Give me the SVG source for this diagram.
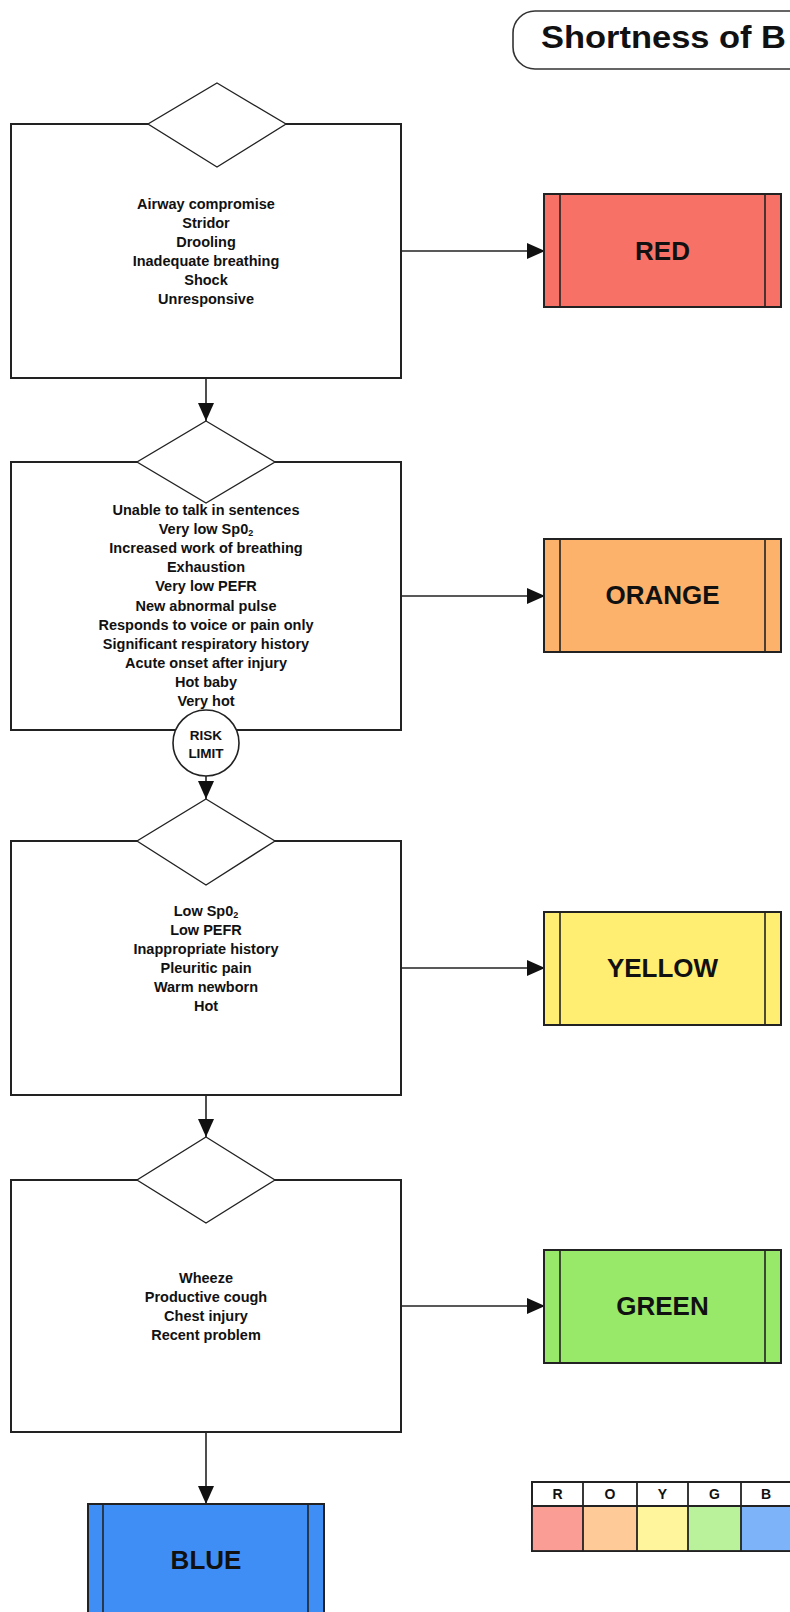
<svg xmlns="http://www.w3.org/2000/svg" width="790" height="1612" viewBox="0 0 790 1612">
<defs>
<style>
.box{fill:#fff;stroke:#222;stroke-width:2}
.dia{fill:#fff;stroke:#222;stroke-width:1.3}
.con{fill:none;stroke:#222;stroke-width:1.6}
.t{font-family:"Liberation Sans",Arial,sans-serif;font-weight:bold;font-size:14.5px;fill:#111;text-anchor:middle}
.lbl{font-family:"Liberation Sans",Arial,sans-serif;font-weight:bold;font-size:26px;fill:#111;text-anchor:middle}
.lg{font-family:"Liberation Sans",Arial,sans-serif;font-weight:bold;font-size:14px;fill:#111;text-anchor:middle}
.cb{stroke:#222;stroke-width:2}
.cl{stroke:#222;stroke-width:1.6}
</style>
<marker id="ah" markerUnits="userSpaceOnUse" markerWidth="18" markerHeight="16" refX="18" refY="8" orient="auto">
<path d="M0,0 L18,8 L0,16 z" fill="#111"/>
</marker>
</defs>
<rect width="790" height="1612" fill="#fff"/>

<g id="title">
<rect x="513" y="11" width="300" height="58" rx="22" ry="22" fill="#fff" stroke="#333" stroke-width="1.6"/>
<text x="541" y="48" font-family="'Liberation Sans',Arial,sans-serif" font-weight="bold" font-size="31" fill="#111" textLength="245" lengthAdjust="spacingAndGlyphs">Shortness of B</text>
</g>

<g id="connectors">
<line class="con" x1="206" y1="378" x2="206" y2="421" marker-end="url(#ah)"/>
<line class="con" x1="206" y1="776" x2="206" y2="799" marker-end="url(#ah)"/>
<line class="con" x1="206" y1="1095" x2="206" y2="1137" marker-end="url(#ah)"/>
<line class="con" x1="206" y1="1432" x2="206" y2="1504" marker-end="url(#ah)"/>
<line class="con" x1="401" y1="251" x2="545" y2="251" marker-end="url(#ah)"/>
<line class="con" x1="401" y1="596" x2="545" y2="596" marker-end="url(#ah)"/>
<line class="con" x1="401" y1="968" x2="545" y2="968" marker-end="url(#ah)"/>
<line class="con" x1="401" y1="1306" x2="545" y2="1306" marker-end="url(#ah)"/>
</g>

<g id="box1">
<rect class="box" x="11" y="124" width="390" height="254"/>
<polygon class="dia" points="217,83 286,124 217,167 148,124"/>
<text class="t" x="206" y="209">Airway compromise</text>
<text class="t" x="206" y="228">Stridor</text>
<text class="t" x="206" y="247">Drooling</text>
<text class="t" x="206" y="266">Inadequate breathing</text>
<text class="t" x="206" y="285">Shock</text>
<text class="t" x="206" y="304">Unresponsive</text>
</g>

<g id="box2">
<rect class="box" x="11" y="462" width="390" height="268"/>
<polygon class="dia" points="206,421 275,462 206,503 137,462"/>
<text class="t" x="206" y="515">Unable to talk in sentences</text>
<text class="t" x="206" y="534">Very low Sp0<tspan font-size="9" dy="2">2</tspan></text>
<text class="t" x="206" y="553">Increased work of breathing</text>
<text class="t" x="206" y="572">Exhaustion</text>
<text class="t" x="206" y="591">Very low PEFR</text>
<text class="t" x="206" y="611">New abnormal pulse</text>
<text class="t" x="206" y="630">Responds to voice or pain only</text>
<text class="t" x="206" y="649">Significant respiratory history</text>
<text class="t" x="206" y="668">Acute onset after injury</text>
<text class="t" x="206" y="687">Hot baby</text>
<text class="t" x="206" y="706">Very hot</text>
</g>

<g id="risk-limit">
<circle cx="206" cy="743" r="33" fill="#fff" stroke="#222" stroke-width="1.6"/>
<text class="t" x="206" y="740" style="font-size:13.5px">RISK</text>
<text class="t" x="206" y="758" style="font-size:13.5px">LIMIT</text>
</g>

<g id="box3">
<rect class="box" x="11" y="841" width="390" height="254"/>
<polygon class="dia" points="206,799 275,841 206,885 137,841"/>
<text class="t" x="206" y="916">Low Sp0<tspan font-size="9" dy="2">2</tspan></text>
<text class="t" x="206" y="935">Low PEFR</text>
<text class="t" x="206" y="954">Inappropriate history</text>
<text class="t" x="206" y="973">Pleuritic pain</text>
<text class="t" x="206" y="992">Warm newborn</text>
<text class="t" x="206" y="1011">Hot</text>
</g>

<g id="box4">
<rect class="box" x="11" y="1180" width="390" height="252"/>
<polygon class="dia" points="206,1137 275,1180 206,1223 137,1180"/>
<text class="t" x="206" y="1283">Wheeze</text>
<text class="t" x="206" y="1302">Productive cough</text>
<text class="t" x="206" y="1321">Chest injury</text>
<text class="t" x="206" y="1340">Recent problem</text>
</g>

<g id="red">
<rect class="cb" x="544" y="194" width="237" height="113" fill="#F77166"/>
<line class="cl" x1="560" y1="194" x2="560" y2="307"/>
<line class="cl" x1="765" y1="194" x2="765" y2="307"/>
<text class="lbl" x="662.5" y="260">RED</text>
</g>

<g id="orange">
<rect class="cb" x="544" y="539" width="237" height="113" fill="#FDB26B"/>
<line class="cl" x1="560" y1="539" x2="560" y2="652"/>
<line class="cl" x1="765" y1="539" x2="765" y2="652"/>
<text class="lbl" x="662.5" y="604">ORANGE</text>
</g>

<g id="yellow">
<rect class="cb" x="544" y="912" width="237" height="113" fill="#FFEE72"/>
<line class="cl" x1="560" y1="912" x2="560" y2="1025"/>
<line class="cl" x1="765" y1="912" x2="765" y2="1025"/>
<text class="lbl" x="662.5" y="977">YELLOW</text>
</g>

<g id="green">
<rect class="cb" x="544" y="1250" width="237" height="113" fill="#98E86A"/>
<line class="cl" x1="560" y1="1250" x2="560" y2="1363"/>
<line class="cl" x1="765" y1="1250" x2="765" y2="1363"/>
<text class="lbl" x="662.5" y="1315">GREEN</text>
</g>

<g id="blue">
<rect class="cb" x="88" y="1504" width="236" height="120" fill="#3F8EF6"/>
<line class="cl" x1="103" y1="1504" x2="103" y2="1624"/>
<line class="cl" x1="308" y1="1504" x2="308" y2="1624"/>
<text class="lbl" x="206" y="1569">BLUE</text>
</g>

<g id="legend">
<rect x="532" y="1482" width="263" height="69" fill="#fff" stroke="#222" stroke-width="2"/>
<rect x="532" y="1506" width="51" height="45" fill="#F99D95"/>
<rect x="583" y="1506" width="54" height="45" fill="#FDCA98"/>
<rect x="637" y="1506" width="51" height="45" fill="#FFF59D"/>
<rect x="688" y="1506" width="53" height="45" fill="#B9F29A"/>
<rect x="741" y="1506" width="54" height="45" fill="#7DB3F8"/>
<g stroke="#222" stroke-width="1.8">
<line x1="532" y1="1506" x2="795" y2="1506"/>
<line x1="583" y1="1482" x2="583" y2="1551"/>
<line x1="637" y1="1482" x2="637" y2="1551"/>
<line x1="688" y1="1482" x2="688" y2="1551"/>
<line x1="741" y1="1482" x2="741" y2="1551"/>
<rect x="532" y="1482" width="263" height="69" fill="none"/>
</g>
<text class="lg" x="557.5" y="1499">R</text>
<text class="lg" x="610" y="1499">O</text>
<text class="lg" x="662.5" y="1499">Y</text>
<text class="lg" x="714.5" y="1499">G</text>
<text class="lg" x="766" y="1499">B</text>
</g>
</svg>
